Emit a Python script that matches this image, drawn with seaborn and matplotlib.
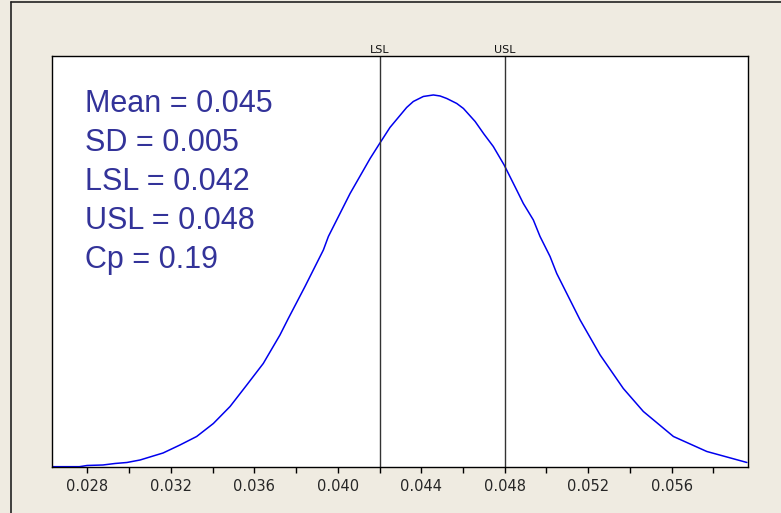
import matplotlib
matplotlib.use("Agg")
import matplotlib.pyplot as plt
import seaborn as sns
from matplotlib.lines import Line2D
from matplotlib.ticker import MultipleLocator, FormatStrFormatter

# density curve
x_vals = [0.02631, 0.02762, 0.02799, 0.02875, 0.02933, 0.02990, 0.03053, 0.03100,
          0.03163, 0.03244, 0.03324, 0.03404, 0.03484, 0.03564, 0.03643, 0.03723,
          0.03763, 0.03843, 0.03931, 0.03955, 0.04059, 0.04155, 0.04199, 0.04250,
          0.04298, 0.04330, 0.04362, 0.04410, 0.04458, 0.04490, 0.04522, 0.04570,
          0.04602, 0.04658, 0.04700, 0.04745, 0.04797, 0.04857, 0.04889, 0.04937,
          0.04969, 0.05017, 0.05049, 0.05161, 0.05257, 0.05368, 0.05464, 0.05608,
          0.05768, 0.05960]
density = [0.06, 0.06, 0.3, 0.4, 0.7, 0.9, 1.4, 2.0,
           2.8, 4.4, 6.1, 8.7, 12.1, 16.4, 20.7, 26.4,
           29.7, 36.1, 43.4, 46.1, 54.7, 61.7, 64.6, 67.9,
           70.3, 71.9, 73.1, 74.1, 74.4, 74.2, 73.7, 72.7,
           71.7, 69.1, 66.6, 64.1, 60.4, 55.4, 52.7, 49.4,
           46.1, 42.1, 38.7, 29.4, 22.4, 15.7, 11.1, 6.1,
           3.1, 0.9]

spec_names = ["LSL", "USL"]
spec_vals = [0.042, 0.048]

stats_lines = ["Mean = 0.045", "SD = 0.005", "LSL = 0.042", "USL = 0.048", "Cp = 0.19"]

sns.set_style("white")
bg = "#efebe1"
fig = plt.figure(figsize=(7.81, 5.13), dpi=100, facecolor=bg)
ax = fig.add_axes([0.0666, 0.0897, 0.8912, 0.8012])
ax.set_facecolor("white")

sns.lineplot(x=x_vals, y=density, ax=ax, color="#0000ee", linewidth=1.1)

for name, v in zip(spec_names, spec_vals):
    ax.axvline(v, color="#333333", linewidth=1)
    ax.text(v, 1.003, name, transform=ax.get_xaxis_transform(), ha="center", va="bottom",
            fontsize=8, family="DejaVu Sans", color="#111111")

ax.set_xlim(0.026309, 0.059656)
ax.set_ylim(0, 82.2)
ax.xaxis.set_major_locator(MultipleLocator(0.004))
ax.xaxis.set_minor_locator(MultipleLocator(0.002))
ax.xaxis.set_major_formatter(FormatStrFormatter("%.3f"))
ax.set_yticks([])
ax.tick_params(axis="x", which="both", direction="out", length=4, width=1, color="black",
               bottom=True, labelsize=10.5, pad=5)
for lbl in ax.get_xticklabels():
    lbl.set_family("DejaVu Sans")
for s in ax.spines.values():
    s.set_color("black")
    s.set_linewidth(1)

for i, line in enumerate(stats_lines):
    fig.text(85 / 781, 1 - (104 + 39 * i) / 513, line, ha="left", va="center",
             fontsize=22, family="Liberation Sans", color="#333399")

# outer frame of the original screenshot
fig.add_artist(Line2D([11 / 781, 1], [1 - 2 / 513, 1 - 2 / 513], color="#222222", linewidth=1.2,
                      transform=fig.transFigure))
fig.add_artist(Line2D([11 / 781, 11 / 781], [0, 1 - 2 / 513], color="#222222", linewidth=1.2,
                      transform=fig.transFigure))

fig.savefig("out.png", dpi=100, facecolor=bg)
